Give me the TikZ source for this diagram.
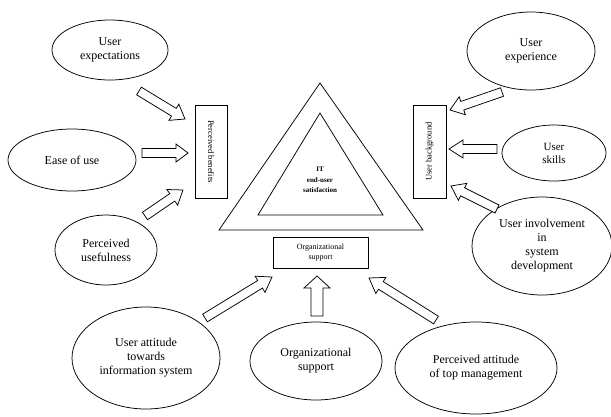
\documentclass[tikz,border=0pt]{standalone}
\usepackage{fontspec}
\setmainfont{Liberation Serif}
\usetikzlibrary{shapes.geometric,calc}
\tikzset{
  lw/.style={line width=0.75pt},
  oval/.style={ellipse, draw, lw, inner sep=0pt, align=center, font=\fontsize{12}{14}\selectfont},
  sbox/.style={rectangle, draw, lw, inner sep=0pt, align=center, font=\fontsize{8.5}{10}\selectfont},
  harrow/.style={draw, lw, fill=white, line join=miter},
}
\newcommand\hollowarrow[5]{%
  \coordinate (harrowbase) at ($(#2)!#5!(#1)$);
  \draw[harrow] ($(#1)!#3!90:(#2)$) -- ($(harrowbase)!#3!-90:(#1)$) -- ($(harrowbase)!#4!-90:(#1)$)
    -- (#2) -- ($(harrowbase)!#4!90:(#1)$) -- ($(harrowbase)!#3!90:(#1)$) -- ($(#1)!#3!-90:(#2)$) -- cycle;
}
\begin{document}
\begin{tikzpicture}[x=1pt,y=-1pt]
\useasboundingbox (0,0) rectangle (611,416);
% ellipses
\node[oval, minimum width=116pt, minimum height=60pt] (ue) at (110,50) {User\\expectations};
\node[oval, minimum width=128pt, minimum height=62pt] (eou) at (72,160) {Ease of use};
\node[oval, minimum width=102pt, minimum height=70pt] (pu) at (106,250) {Perceived\\usefulness};
\node[oval, minimum width=128pt, minimum height=78pt] (uexp) at (531,51) {User\\experience};
\node[oval, minimum width=104pt, minimum height=56pt, font=\fontsize{11}{13}\selectfont] (us) at (554,153) {User\\skills};
\node[oval, minimum width=140pt, minimum height=98pt] (ui) at (542,246) {User involvement\\in\\system\\development};
\node[oval, minimum width=148pt, minimum height=102pt] (uat) at (146,358) {User attitude\\towards\\information system};
\node[oval, minimum width=132pt, minimum height=78pt] (os) at (316,361) {Organizational\\support};
\node[oval, minimum width=162pt, minimum height=92pt] (pat) at (476,368) {Perceived attitude\\of top management};
% boxes
\node[sbox, minimum width=32pt, minimum height=93pt] (pb) at (211,151.5) {};
\node[rotate=-90, font=\fontsize{8.5}{10}\selectfont] at (pb.center) {Perceived benefits};
\node[sbox, minimum width=33pt, minimum height=93pt] (ub) at (429.5,151.5) {};
\node[rotate=90, font=\fontsize{8.5}{10}\selectfont] at (ub.center) {User background};
\node[sbox, minimum width=95pt, minimum height=31pt, font=\fontsize{8}{9.5}\selectfont] (osr) at (320.5,252.5) {Organizational\\support};
% triangles
\coordinate (ta) at (320,83); \coordinate (tl) at (219,230); \coordinate (tr) at (423,230);
\coordinate (ia) at (320,113); \coordinate (il) at (258,215); \coordinate (ir) at (383,215);
\draw[lw, line join=miter] (ta) -- (tl) -- (tr) -- cycle;
\draw[lw, line join=miter] (ia) -- (il) -- (ir) -- cycle;
\node[align=center, font=\bfseries\fontsize{7}{10.5}\selectfont] (sat) at (320,180) {IT\\end-user\\satisfaction};
% arrow end points
\coordinate (a1s) at (139,91);  \coordinate (a1e) at (185,119);
\coordinate (a2s) at (142,153); \coordinate (a2e) at (188,153);
\coordinate (a3s) at (145,216); \coordinate (a3e) at (183,190);
\coordinate (a4s) at (502,92);  \coordinate (a4e) at (450,110);
\coordinate (a5s) at (497,149); \coordinate (a5e) at (449,149);
\coordinate (a6s) at (497,209); \coordinate (a6e) at (451,186);
\coordinate (a7s) at (205,318); \coordinate (a7e) at (272,277);
\coordinate (a8s) at (317,316); \coordinate (a8e) at (317,276);
\coordinate (a9s) at (436,320); \coordinate (a9e) at (369,278);
\hollowarrow{a1s}{a1e}{4.5pt}{9.5pt}{13pt}
\hollowarrow{a2s}{a2e}{4.5pt}{9pt}{12pt}
\hollowarrow{a3s}{a3e}{4.5pt}{9.5pt}{13pt}
\hollowarrow{a4s}{a4e}{4.5pt}{9.5pt}{13pt}
\hollowarrow{a5s}{a5e}{4.5pt}{9pt}{14pt}
\hollowarrow{a6s}{a6e}{4.5pt}{9.5pt}{13pt}
\hollowarrow{a7s}{a7e}{4.5pt}{9.5pt}{14pt}
\hollowarrow{a8s}{a8e}{6pt}{13pt}{12pt}
\hollowarrow{a9s}{a9e}{4.5pt}{9.5pt}{14pt}
\end{tikzpicture}
\end{document}
